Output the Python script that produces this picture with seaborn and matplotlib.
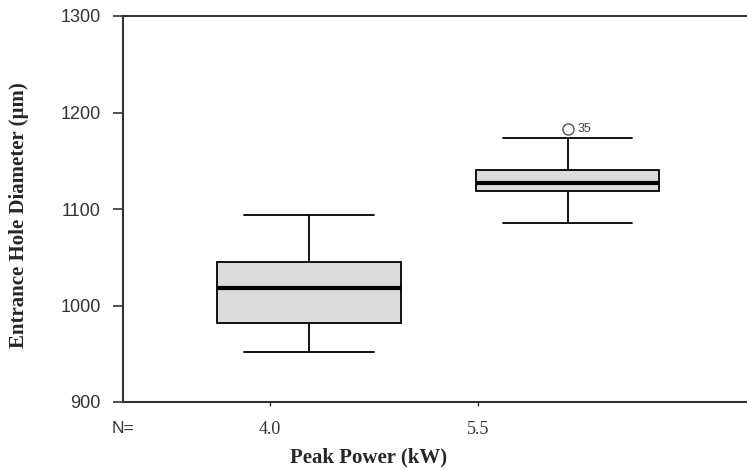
import pandas as pd
import matplotlib.pyplot as plt
import seaborn as sns

# Box plot summary (Entrance Hole Diameter, um)
powers = ["4.0", "5.5"]
whisker_low = [952, 1086]
q1 = [982, 1119]
median = [1018, 1127]
q3 = [1045, 1140]
whisker_high = [1094, 1174]
outliers = [[], [1183]]
outlier_case = [[], ["35"]]

# Build a small sample per group that reproduces the summary above
rows = []
for i, p in enumerate(powers):
    sample = [whisker_low[i], q1[i], q1[i], median[i], median[i],
              q3[i], q3[i], whisker_high[i]]
    sample += outliers[i] if outliers[i] else [whisker_high[i]]
    for v in sample:
        rows.append({"power": p, "diameter": v})
df = pd.DataFrame(rows)

sns.set_style("ticks")
plt.rcParams["font.family"] = ["Liberation Sans", "DejaVu Sans"]

fig = plt.figure(figsize=(7.47, 4.70), dpi=100)
ax = fig.add_axes([123 / 747, 68 / 470, 624 / 747, 386 / 470])

sns.boxplot(data=df, x="power", y="diameter", order=powers, ax=ax,
            width=0.71, whis=1.75, color="#dcdcdc", linecolor="black",
            linewidth=1.3, fliersize=8, capwidths=0.5,
            medianprops=dict(color="black", linewidth=3),
            flierprops=dict(marker="o", markerfacecolor="none",
                            markeredgecolor="#555555", markeredgewidth=1.0))

# case labels for outliers
for i, (vals, labs) in enumerate(zip(outliers, outlier_case)):
    for v, lab in zip(vals, labs):
        ax.annotate(lab, xy=(i, v), xytext=(7, 0), textcoords="offset points",
                    ha="left", va="center", fontsize=9, color="#444444")

ax.set_xlim(-0.7195, 1.694)
ax.set_ylim(900, 1300)
ax.set_yticks([900, 1000, 1100, 1200, 1300])
ax.tick_params(axis="y", length=7.2, width=1.2, pad=9, labelsize=13,
               colors="#333333")

# category labels sit left of the boxes in the original
ax.set_xticks([-0.151, 0.654])
ax.set_xticklabels(powers, family="Liberation Serif", fontsize=13)
ax.tick_params(axis="x", length=3, width=1.0, pad=11, colors="#333333")

ax.annotate("N=", xy=(0, 0), xycoords="axes fraction", xytext=(0, -14),
            textcoords="offset points", ha="center", va="top", fontsize=12.5,
            color="#333333")

for s in ["left", "top", "bottom"]:
    ax.spines[s].set_linewidth(1.5)
    ax.spines[s].set_color("#333333")
ax.spines["right"].set_visible(False)

ax.set_xlabel("Peak Power (kW)", family="Liberation Serif", fontweight="bold",
              fontsize=15, va="center")
ax.xaxis.set_label_coords(0.394, -0.145)
ax.set_ylabel("Entrance Hole Diameter (\u00b5m)", family="Liberation Serif",
              fontweight="bold", fontsize=15, va="center")
ax.yaxis.set_label_coords(-0.167, 0.484)

fig.savefig("out.png", dpi=100)
